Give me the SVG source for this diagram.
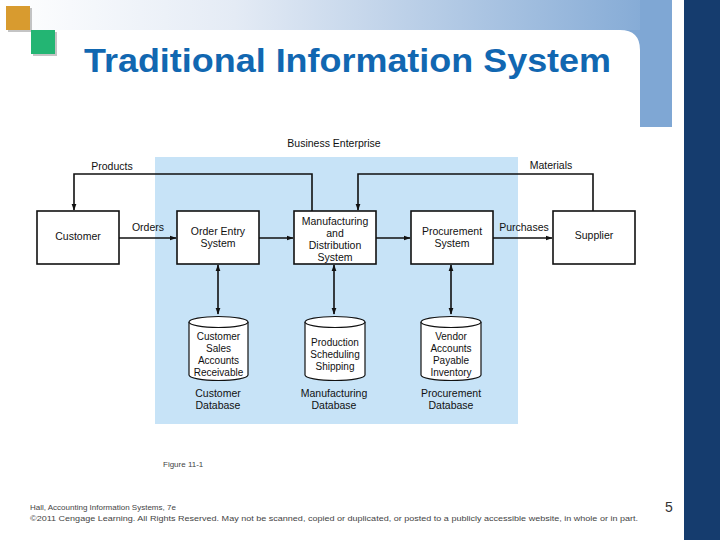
<svg xmlns="http://www.w3.org/2000/svg" width="720" height="540" viewBox="0 0 720 540">
<defs>
<linearGradient id="band" x1="0" y1="0" x2="1" y2="0">
<stop offset="0" stop-color="#ffffff"/>
<stop offset="0.35" stop-color="#e4ebf5"/>
<stop offset="1" stop-color="#7fa7d4"/>
</linearGradient>
<marker id="ah" viewBox="0 0 10 10" refX="9" refY="5" markerWidth="7" markerHeight="7" orient="auto-start-reverse" markerUnits="userSpaceOnUse">
<path d="M0,1.5 L10,5 L0,8.5 Z" fill="#111"/>
</marker>
<style>
.box{fill:#fff;stroke:#111;stroke-width:1.6}
.cyl{fill:#fff;stroke:#111;stroke-width:1.2}
.t{font-family:"Liberation Sans",Arial,sans-serif;font-size:10.5px;fill:#111;text-anchor:middle}
.ct{font-size:10px}
.c{stroke:#111;stroke-width:1.6;fill:none}
.ft{font-family:"Liberation Sans",Arial,sans-serif;font-size:8px;fill:#444}
</style>
</defs>
<rect width="720" height="540" fill="#fff"/>
<!-- header decoration -->
<rect x="0" y="0" width="672" height="30" fill="url(#band)"/>
<rect x="640" y="0" width="32" height="127" fill="#7fa7d4"/>
<path d="M620,30 Q640,30 640,50 L640,30 Z" fill="#7fa7d4"/>
<rect x="684" y="0" width="36" height="540" fill="#153c6e"/>
<rect x="8" y="8" width="24" height="24" fill="#8a8a8a" opacity="0.5"/>
<rect x="6" y="6" width="24" height="24" fill="#d89b2f"/>
<rect x="33" y="32" width="24" height="24" fill="#8a8a8a" opacity="0.5"/>
<rect x="31" y="30" width="24" height="24" fill="#23b573"/>
<text x="84" y="72" font-family="'Liberation Sans',Arial,sans-serif" font-weight="bold" font-size="34" fill="#1167b1" textLength="527" lengthAdjust="spacingAndGlyphs">Traditional Information System</text>
<!-- diagram background -->
<rect x="155" y="157" width="363" height="267" fill="#c7e3f7"/>
<text class="t" x="334" y="147" font-size="11.5">Business Enterprise</text>
<!-- connectors -->
<g id="connectors">
<polyline class="c" points="312,211 312,174 74,174 74,210" marker-end="url(#ah)"/>
<polyline class="c" points="593,211 593,174 358,174 358,210" marker-end="url(#ah)"/>
<line class="c" x1="119" y1="238" x2="176" y2="238" marker-end="url(#ah)"/>
<line class="c" x1="259" y1="238" x2="293" y2="238" marker-end="url(#ah)"/>
<line class="c" x1="376" y1="238" x2="410" y2="238" marker-end="url(#ah)"/>
<line class="c" x1="493" y1="238" x2="552" y2="238" marker-end="url(#ah)"/>
<line class="c" x1="218" y1="265" x2="218" y2="314" marker-start="url(#ah)" marker-end="url(#ah)"/>
<line class="c" x1="334" y1="265" x2="334" y2="314" marker-start="url(#ah)" marker-end="url(#ah)"/>
<line class="c" x1="451" y1="265" x2="451" y2="314" marker-start="url(#ah)" marker-end="url(#ah)"/>
<text class="t" x="112" y="170">Products</text>
<text class="t" x="551" y="169">Materials</text>
<text class="t" x="148" y="231">Orders</text>
<text class="t" x="524" y="231">Purchases</text>
</g>
<!-- nodes -->
<g id="customer">
<rect class="box" x="37" y="211" width="82" height="53"/>
<text class="t" x="78" y="240">Customer</text>
</g>
<g id="order-entry">
<rect class="box" x="177" y="211" width="82" height="53"/>
<text class="t" x="218" y="235">Order Entry</text>
<text class="t" x="218" y="247">System</text>
</g>
<g id="manufacturing">
<rect class="box" x="294" y="211" width="82" height="53"/>
<text class="t" x="335" y="225">Manufacturing</text>
<text class="t" x="335" y="237">and</text>
<text class="t" x="335" y="249">Distribution</text>
<text class="t" x="335" y="261">System</text>
</g>
<g id="procurement">
<rect class="box" x="411" y="211" width="82" height="53"/>
<text class="t" x="452" y="235">Procurement</text>
<text class="t" x="452" y="247">System</text>
</g>
<g id="supplier">
<rect class="box" x="553" y="211" width="82" height="53"/>
<text class="t" x="594" y="239">Supplier</text>
</g>
<g id="customer-db">
<path class="cyl" d="M189,322 A29.5,5.5 0 0 1 248,322 L248,375 A29.5,5.5 0 0 1 189,375 Z"/>
<path class="cyl" d="M189,322 A29.5,5.5 0 0 0 248,322"/>
<text class="t ct" x="218.5" y="340">Customer</text>
<text class="t ct" x="218.5" y="352">Sales</text>
<text class="t ct" x="218.5" y="364">Accounts</text>
<text class="t ct" x="218.5" y="376">Receivable</text>
<text class="t" x="218" y="397">Customer</text>
<text class="t" x="218" y="409">Database</text>
</g>
<g id="manufacturing-db">
<path class="cyl" d="M305,322 A30,5.5 0 0 1 365,322 L365,375 A30,5.5 0 0 1 305,375 Z"/>
<path class="cyl" d="M305,322 A30,5.5 0 0 0 365,322"/>
<text class="t ct" x="335" y="346">Production</text>
<text class="t ct" x="335" y="358">Scheduling</text>
<text class="t ct" x="335" y="370">Shipping</text>
<text class="t" x="334" y="397">Manufacturing</text>
<text class="t" x="334" y="409">Database</text>
</g>
<g id="procurement-db">
<path class="cyl" d="M421,322 A30,5.5 0 0 1 481,322 L481,375 A30,5.5 0 0 1 421,375 Z"/>
<path class="cyl" d="M421,322 A30,5.5 0 0 0 481,322"/>
<text class="t ct" x="451" y="340">Vendor</text>
<text class="t ct" x="451" y="352">Accounts</text>
<text class="t ct" x="451" y="364">Payable</text>
<text class="t ct" x="451" y="376">Inventory</text>
<text class="t" x="451" y="397">Procurement</text>
<text class="t" x="451" y="409">Database</text>
</g>
<text class="ft" x="163" y="467" font-size="7">Figure 11-1</text>
<text class="ft" x="30" y="510">Hall, Accounting Information Systems, 7e</text>
<text class="ft" x="30" y="521" textLength="608" lengthAdjust="spacingAndGlyphs">©2011 Cengage Learning. All Rights Reserved. May not be scanned, copied or duplicated, or posted to a publicly accessible website, in whole or in part.</text>
<text x="665" y="512" font-family="'Liberation Sans',Arial,sans-serif" font-size="14" fill="#333">5</text>
</svg>
